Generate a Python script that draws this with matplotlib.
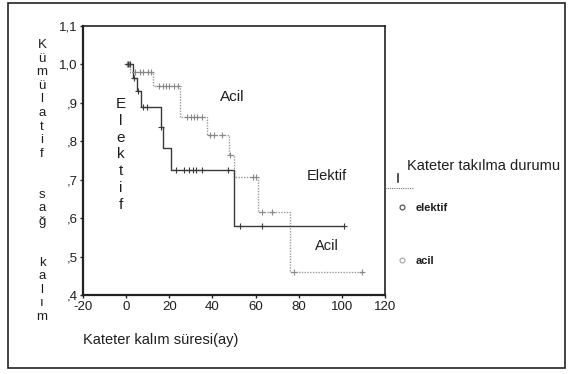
import numpy as np
import matplotlib
matplotlib.use("Agg")
import matplotlib.pyplot as plt
from matplotlib.lines import Line2D
from matplotlib.patches import Rectangle

plt.rcParams['font.family'] = ['Liberation Sans', 'DejaVu Sans']

# Kaplan-Meier steps (time, survival after step)
elek_t = [0, 3, 5, 7, 16, 17, 21, 50, 101]
elek_s = [1.0, 0.965, 0.93, 0.888, 0.838, 0.783, 0.726, 0.58, 0.58]
elek_cens = [1, 2, 3.5, 5.5, 8, 9.5, 16.2, 23, 27, 29, 31, 32.5, 35, 47, 53, 63, 101]

acil_t = [0, 2, 12.5, 25, 37.5, 47.5, 50, 61, 76, 110]
acil_s = [1.0, 0.98, 0.943, 0.862, 0.817, 0.765, 0.708, 0.616, 0.46, 0.46]
acil_cens = [0.5, 1.2, 4, 6.5, 8, 10, 11.5, 15, 17, 18.5, 20, 22, 24, 28, 30,
             31.5, 33, 35, 39, 40.5, 44.5, 48, 59, 60, 63, 67.5, 78, 109.5]

xticks = [-20, 0, 20, 40, 60, 80, 100, 120]
yticks = [0.4, 0.5, 0.6, 0.7, 0.8, 0.9, 1.0, 1.1]
ytick_labels = [",4", ",5", ",6", ",7", ",8", ",9", "1,0", "1,1"]

ylabel_letters = "Kümülatif  sağ  kalım"
xlabel = "Kateter kalım süresi(ay)"
legend_title = "Kateter takılma durumu"
legend_labels = ["elektif", "acil"]

TXT = '#1e1e1e'

fig = plt.figure(figsize=(5.69, 3.74), dpi=100)
ax = fig.add_axes([83/569, 1-295/374, (385-83)/569, (295-26)/374])

def surv_at(t, ts, ss):
    idx = np.searchsorted(np.array(ts), t, side='right') - 1
    return np.array(ss)[idx]

c_el = '#3a3a3a'
c_ac = '#9a9a9a'
ax.step(acil_t, acil_s, where='post', color=c_ac, lw=1.0, ls=(0, (1, 1)))
ax.step(elek_t, elek_s, where='post', color=c_el, lw=1.0)
ax.plot(acil_cens, surv_at(acil_cens, acil_t, acil_s), ls='none', marker='+',
        ms=5, mew=0.8, color='#888888')
ax.plot(elek_cens, surv_at(elek_cens, elek_t, elek_s), ls='none', marker='+',
        ms=5, mew=0.8, color=c_el)

ax.set_xlim(-20, 120)
ax.set_ylim(0.4, 1.1)
ax.set_xticks(xticks)
ax.set_xticklabels([str(v) for v in xticks], fontsize=9.5, color=TXT)
ax.set_yticks(yticks)
ax.set_yticklabels(ytick_labels, fontsize=9.5, color=TXT)
ax.tick_params(length=2, width=1, color='#222222', pad=2)
for s in ax.spines.values():
    s.set_color('#222222')
    s.set_linewidth(1.2)
ax.spines['left'].set_linewidth(1.6)
ax.spines['bottom'].set_linewidth(1.6)

# Annotations
ax.text(49, 0.915, "Acil", fontsize=11, ha='center', va='center', color=TXT)
ax.text(93, 0.71, "Elektif", fontsize=10.5, ha='center', va='center', color=TXT)
ax.text(93, 0.528, "Acil", fontsize=10.5, ha='center', va='center', color=TXT)
for i, ch in enumerate("Elektif"):
    fig.text(121/569, 1 - (104 + i*16.8)/374, ch, fontsize=11, ha='center', va='center',
             color=TXT)

# Y label stacked letters
y0 = 45
for i, ch in enumerate(ylabel_letters):
    if ch != ' ':
        fig.text(42/569, 1 - (y0 + i*13.6)/374, ch, fontsize=9.5, ha='center',
                 va='center', color=TXT)

fig.text(83/569, 1 - 340/374, xlabel, fontsize=10.5, ha='left', va='center', color=TXT)

# Legend
fig.text(407/569, 1 - 166/374, legend_title, fontsize=10.5, ha='left', va='center',
         color=TXT)
fig.add_artist(Line2D([398/569, 398/569], [1-174/374, 1-182/374], color='#333333', lw=1.2))
fig.add_artist(Line2D([385/569, 414/569], [1-188/374, 1-188/374], color='#777777', lw=0.8,
                      ls=(0, (1, 1))))
fig.add_artist(Line2D([402/569], [1-207/374], marker='o', ms=3.5, mfc='white',
                      mec='#555555', mew=0.9, ls='none'))
fig.text(416/569, 1 - 208/374, legend_labels[0], fontsize=8, ha='left', va='center',
         color=TXT, fontweight='bold')
fig.add_artist(Line2D([402/569], [1-260/374], marker='o', ms=3.5, mfc='white',
                      mec='#aaaaaa', mew=0.9, ls='none'))
fig.text(416/569, 1 - 261/374, legend_labels[1], fontsize=8, ha='left', va='center',
         color=TXT, fontweight='bold')

# Outer border
fig.add_artist(Rectangle((8/569, 1-368/374), (565-8)/569, (368-3)/374,
                         transform=fig.transFigure, fill=False, ec='#222222', lw=1.2))

fig.savefig("out.png", dpi=100)
